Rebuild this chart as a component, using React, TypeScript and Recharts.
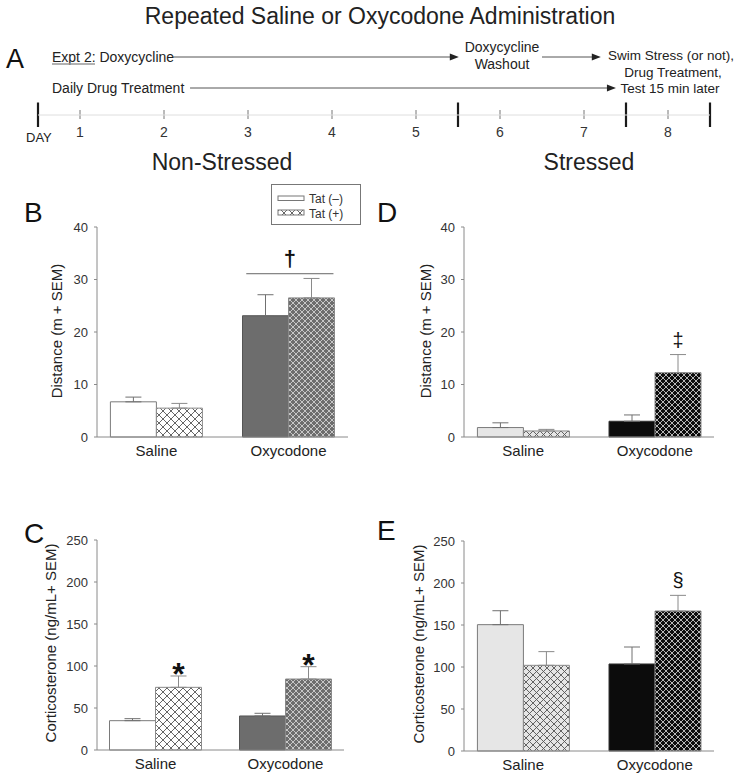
import React from "react";
import {
  Bar,
  BarChart,
  Cell,
  ErrorBar,
  LabelList,
  LineChart,
  ReferenceLine,
  XAxis,
  YAxis,
} from "recharts";

const FONT = '"Liberation Sans", Arial, Helvetica, sans-serif';

// timeline (panel A)
const days = [1, 2, 3, 4, 5, 6, 7, 8];
const phaseBreaks = [0.5, 5.5, 7.5, 8.5];
const timelineArrows = [
  { from: 2.11, to: 5.51, level: 58 },
  { from: 6.5, to: 7.2, level: 58 },
  { from: 2.31, to: 7.38, level: 27 },
];

// bar panels
const groups = ["Saline", "Oxycodone"];

const distNonStressedTatNeg = [6.7, 23.1];
const distNonStressedTatNegSem = [0.9, 4.0];
const distNonStressedTatPos = [5.5, 26.5];
const distNonStressedTatPosSem = [0.9, 3.7];
const distNonStressedMarks = ["", ""];

const distStressedTatNeg = [1.8, 3.0];
const distStressedTatNegSem = [0.9, 1.2];
const distStressedTatPos = [1.15, 12.25];
const distStressedTatPosSem = [0.3, 3.45];
const distStressedMarks = ["", "‡"];

const corticoNonStressedTatNeg = [34.9, 40.5];
const corticoNonStressedTatNegSem = [2.4, 3.2];
const corticoNonStressedTatPos = [74.6, 84.5];
const corticoNonStressedTatPosSem = [13.5, 14.7];
const corticoNonStressedMarks = ["*", "*"];

const corticoStressedTatNeg = [150.4, 103.6];
const corticoStressedTatNegSem = [16.6, 20.2];
const corticoStressedTatPos = [102, 166.7];
const corticoStressedTatPosSem = [16.3, 18.6];
const corticoStressedMarks = ["", "§"];

const distanceTicks = [0, 10, 20, 30, 40];
const corticoTicks = [0, 50, 100, 150, 200, 250];

// oxycodone main effect in panel B
const oxyEffectLine = { x1: 0.68, x2: 1.34, y: 31.1, symbol: "†" };

type Row = {
  idx: number;
  group: string;
  neg: number;
  negErr: number[];
  pos: number;
  posSem: number;
  posErr: number[];
  mark: string;
};

const buildRows = (
  neg: number[],
  negSem: number[],
  pos: number[],
  posSem: number[],
  marks: string[]
): Row[] =>
  groups.map((g, i) => ({
    idx: i,
    group: g,
    neg: neg[i],
    negErr: [0, negSem[i]],
    pos: pos[i],
    posSem: posSem[i],
    posErr: [0, posSem[i]],
    mark: marks[i],
  }));

const markContent = (rows: Row[]) => (p: any) => {
  const { x, y, width, height, index } = p;
  const row = rows[index];
  if (!row || !row.mark) return null;
  const unit = height / row.pos;
  const errTop = y - row.posSem * unit;
  const star = row.mark === "*";
  const fs = star ? 32 : 20;
  const base = star ? errTop + 9 : errTop - 8;
  return (
    <text
      x={x + width / 2}
      y={base}
      textAnchor="middle"
      fontSize={fs}
      fontWeight={star ? "bold" : "normal"}
      fill="#111"
      fontFamily={FONT}
    >
      {row.mark}
    </text>
  );
};

type PanelProps = {
  axisX: number;
  top: number;
  bottom: number;
  right: number;
  rows: Row[];
  yMax: number;
  ticks: number[];
  negFills: string[];
  posFills: string[];
  negStrokes: string[];
  effect?: typeof oxyEffectLine;
};

function Panel({
  axisX,
  top,
  bottom,
  right,
  rows,
  yMax,
  ticks,
  negFills,
  posFills,
  negStrokes,
  effect,
}: PanelProps) {
  const width = right - axisX + 60;
  const height = bottom - top + 60;
  return (
    <div style={{ position: "absolute", left: axisX - 50, top: top - 20 }}>
      <BarChart
        width={width}
        height={height}
        data={rows}
        barGap={0}
        margin={{ top: 20, right: 10, bottom: 10, left: 10 }}
      >
        <XAxis
          dataKey="idx"
          type="number"
          domain={[-0.45, 1.45]}
          allowDataOverflow
          ticks={[0, 1]}
          interval={0}
          tickFormatter={(i: number) => groups[i] ?? ""}
          tickLine={false}
          tickSize={0}
          tickMargin={8}
          height={30}
          axisLine={{ stroke: "#8a8a8a" }}
          tick={{ fontSize: 15, fill: "#222" }}
        />
        <YAxis
          type="number"
          domain={[0, yMax]}
          ticks={ticks}
          interval={0}
          width={40}
          tickSize={3}
          tickMargin={6}
          axisLine={{ stroke: "#8a8a8a" }}
          tickLine={{ stroke: "#8a8a8a" }}
          tick={{ fontSize: 13, fill: "#333" }}
        />
        <Bar dataKey="neg" barSize={46} isAnimationActive={false}>
          {rows.map((r, i) => (
            <Cell key={r.group} fill={negFills[i]} stroke={negStrokes[i]} />
          ))}
          <ErrorBar
            dataKey="negErr"
            direction="y"
            width={8}
            stroke="#707070"
            strokeWidth={1}
          />
        </Bar>
        <Bar dataKey="pos" barSize={46} isAnimationActive={false}>
          {rows.map((r, i) => (
            <Cell key={r.group} fill={posFills[i]} stroke="#8a8a8a" />
          ))}
          <ErrorBar
            dataKey="posErr"
            direction="y"
            width={8}
            stroke="#8a8a8a"
            strokeWidth={1}
          />
          <LabelList dataKey="mark" content={markContent(rows)} />
        </Bar>
        {effect && (
          <ReferenceLine
            segment={[
              { x: effect.x1, y: effect.y },
              { x: effect.x2, y: effect.y },
            ]}
            stroke="#666"
            strokeWidth={1}
            ifOverflow="visible"
            label={{
              value: effect.symbol,
              position: "top",
              offset: 8,
              fontSize: 22,
              fontWeight: "bold",
              fill: "#111",
            }}
          />
        )}
      </BarChart>
    </div>
  );
}

const ArrowShape = (p: any) => {
  const { x1, y1, x2, y2 } = p;
  return (
    <g>
      <line x1={x1} y1={y1} x2={x2 - 6} y2={y2} stroke="#555" strokeWidth={1} />
      <path
        d={`M${x2},${y2} L${x2 - 9},${y2 - 3.5} L${x2 - 9},${y2 + 3.5} Z`}
        fill="#222"
      />
    </g>
  );
};

function Timeline() {
  const data = days.map((d) => ({ day: d }));
  return (
    <div style={{ position: "absolute", left: 0, top: 0 }}>
      <LineChart
        width={743}
        height={175}
        data={data}
        margin={{ top: 0, right: 33, bottom: 30, left: 38 }}
      >
        <XAxis
          dataKey="day"
          type="number"
          domain={[0.5, 8.5]}
          allowDataOverflow
          ticks={days}
          interval={0}
          height={30}
          tickLine={false}
          tickSize={0}
          tickMargin={12}
          axisLine={{ stroke: "#dedede" }}
          tick={{ fontSize: 14, fill: "#333" }}
        />
        <YAxis hide type="number" domain={[0, 115]} allowDataOverflow />
        {days.map((d) => (
          <ReferenceLine
            key={`d${d}`}
            segment={[
              { x: d, y: 5 },
              { x: d, y: -4 },
            ]}
            stroke="#777"
            strokeWidth={1}
            ifOverflow="visible"
          />
        ))}
        {phaseBreaks.map((d) => (
          <ReferenceLine
            key={`p${d}`}
            segment={[
              { x: d, y: 12.5 },
              { x: d, y: -12 },
            ]}
            stroke="#1a1a1a"
            strokeWidth={2.2}
            ifOverflow="visible"
          />
        ))}
        {timelineArrows.map((a, i) => (
          <ReferenceLine
            key={`a${i}`}
            segment={[
              { x: a.from, y: a.level },
              { x: a.to, y: a.level },
            ]}
            ifOverflow="visible"
            shape={ArrowShape}
          />
        ))}
      </LineChart>
    </div>
  );
}

function Legend() {
  return (
    <div
      style={{
        position: "absolute",
        left: 271,
        top: 184,
        width: 88,
        height: 39,
        border: "1px solid #777",
        background: "#fff",
      }}
    >
      <svg width={88} height={39}>
        <rect x={6} y={11} width={26} height={4.5} fill="#fff" stroke="#777" />
        <rect
          x={6}
          y={25}
          width={26}
          height={5}
          fill="url(#hatchWhite)"
          stroke="#777"
        />
        <text x={37} y={18} fontSize={12} fill="#333" fontFamily={FONT}>
          Tat (–)
        </text>
        <text x={37} y={32.5} fontSize={12} fill="#333" fontFamily={FONT}>
          Tat (+)
        </text>
      </svg>
    </div>
  );
}

const hatch = (id: string, size: number, bg: string, line: string, w: number) => (
  <pattern id={id} width={size} height={size} patternUnits="userSpaceOnUse">
    <rect width={size} height={size} fill={bg} />
    <path
      d={`M0,0 L${size},${size} M${size},0 L0,${size}`}
      stroke={line}
      strokeWidth={w}
    />
  </pattern>
);

export default function App() {
  const rowsB = buildRows(
    distNonStressedTatNeg,
    distNonStressedTatNegSem,
    distNonStressedTatPos,
    distNonStressedTatPosSem,
    distNonStressedMarks
  );
  const rowsD = buildRows(
    distStressedTatNeg,
    distStressedTatNegSem,
    distStressedTatPos,
    distStressedTatPosSem,
    distStressedMarks
  );
  const rowsC = buildRows(
    corticoNonStressedTatNeg,
    corticoNonStressedTatNegSem,
    corticoNonStressedTatPos,
    corticoNonStressedTatPosSem,
    corticoNonStressedMarks
  );
  const rowsE = buildRows(
    corticoStressedTatNeg,
    corticoStressedTatNegSem,
    corticoStressedTatPos,
    corticoStressedTatPosSem,
    corticoStressedMarks
  );

  const nonStressedNeg = ["#ffffff", "#6d6d6d"];
  const nonStressedNegStroke = ["#7a7a7a", "#555555"];
  const nonStressedPos = ["url(#hatchWhite)", "url(#hatchGray)"];
  const stressedNeg = ["#e6e6e6", "#0c0c0c"];
  const stressedNegStroke = ["#7a7a7a", "#333333"];
  const stressedPos = ["url(#hatchPale)", "url(#hatchBlack)"];

  const yLabel = (x: number, y: number, text: string) => (
    <text
      x={x}
      y={y}
      transform={`rotate(-90, ${x}, ${y})`}
      textAnchor="middle"
      dominantBaseline="central"
      fontSize={15}
      fill="#222"
    >
      {text}
    </text>
  );

  return (
    <div
      style={{
        position: "absolute",
        left: 0,
        top: 0,
        width: 743,
        height: 776,
        background: "#fff",
        fontFamily: FONT,
        overflow: "hidden",
      }}
    >
      <svg width={0} height={0} style={{ position: "absolute" }}>
        <defs>
          {hatch("hatchWhite", 8, "#ffffff", "#555555", 0.9)}
          {hatch("hatchGray", 6, "#6d6d6d", "#d0d0d0", 0.9)}
          {hatch("hatchPale", 7, "#e6e6e6", "#555555", 0.9)}
          {hatch("hatchBlack", 6, "#0c0c0c", "#c8c8c8", 0.9)}
        </defs>
      </svg>

      <Timeline />

      <Panel
        axisX={97}
        top={226.7}
        bottom={436.7}
        right={348}
        rows={rowsB}
        yMax={40}
        ticks={distanceTicks}
        negFills={nonStressedNeg}
        negStrokes={nonStressedNegStroke}
        posFills={nonStressedPos}
        effect={oxyEffectLine}
      />
      <Panel
        axisX={464}
        top={226.7}
        bottom={436.7}
        right={714}
        rows={rowsD}
        yMax={40}
        ticks={distanceTicks}
        negFills={stressedNeg}
        negStrokes={stressedNegStroke}
        posFills={stressedPos}
      />
      <Panel
        axisX={97}
        top={540}
        bottom={750}
        right={344}
        rows={rowsC}
        yMax={250}
        ticks={corticoTicks}
        negFills={nonStressedNeg}
        negStrokes={nonStressedNegStroke}
        posFills={nonStressedPos}
      />
      <Panel
        axisX={464}
        top={541}
        bottom={751}
        right={714}
        rows={rowsE}
        yMax={250}
        ticks={corticoTicks}
        negFills={stressedNeg}
        negStrokes={stressedNegStroke}
        posFills={stressedPos}
      />

      <Legend />

      <svg
        width={743}
        height={776}
        style={{ position: "absolute", left: 0, top: 0, pointerEvents: "none" }}
        fontFamily={FONT}
      >
        <text x={380} y={23.5} textAnchor="middle" fontSize={23} fill="#222">
          Repeated Saline or Oxycodone Administration
        </text>
        <text x={6} y={68} fontSize={27} fill="#111">
          A
        </text>
        <text x={52} y={62} fontSize={14} fill="#222">
          Expt 2: Doxycycline
        </text>
        <line x1={52} y1={64} x2={95} y2={64} stroke="#999" strokeWidth={1.5} />
        <text x={52} y={93} fontSize={14} fill="#222">
          Daily Drug Treatment
        </text>
        <text x={502} y={52} textAnchor="middle" fontSize={14} fill="#222">
          Doxycycline
        </text>
        <text x={502} y={69} textAnchor="middle" fontSize={14} fill="#222">
          Washout
        </text>
        <text x={671} y={60} textAnchor="middle" fontSize={13.5} fill="#222">
          Swim Stress (or not),
        </text>
        <text x={673} y={76.5} textAnchor="middle" fontSize={13.5} fill="#222">
          Drug Treatment,
        </text>
        <text x={670} y={93} textAnchor="middle" fontSize={13.5} fill="#222">
          Test 15 min later
        </text>
        <text x={26} y={142} fontSize={13} fill="#222">
          DAY
        </text>
        <text x={222} y={170} textAnchor="middle" fontSize={23} fill="#222">
          Non-Stressed
        </text>
        <text x={589} y={170} textAnchor="middle" fontSize={23} fill="#222">
          Stressed
        </text>

        <text x={24} y={222} fontSize={28} fill="#111">
          B
        </text>
        <text x={377} y={222} fontSize={28} fill="#111">
          D
        </text>
        <text x={24} y={543} fontSize={28} fill="#111">
          C
        </text>
        <text x={377} y={540} fontSize={28} fill="#111">
          E
        </text>

        {yLabel(56, 331, "Distance (m + SEM)")}
        {yLabel(425.5, 331, "Distance (m + SEM)")}
        {yLabel(50, 643, "Corticosterone (ng/mL+ SEM)")}
        {yLabel(418.5, 644, "Corticosterone (ng/mL+ SEM)")}
      </svg>
    </div>
  );
}
